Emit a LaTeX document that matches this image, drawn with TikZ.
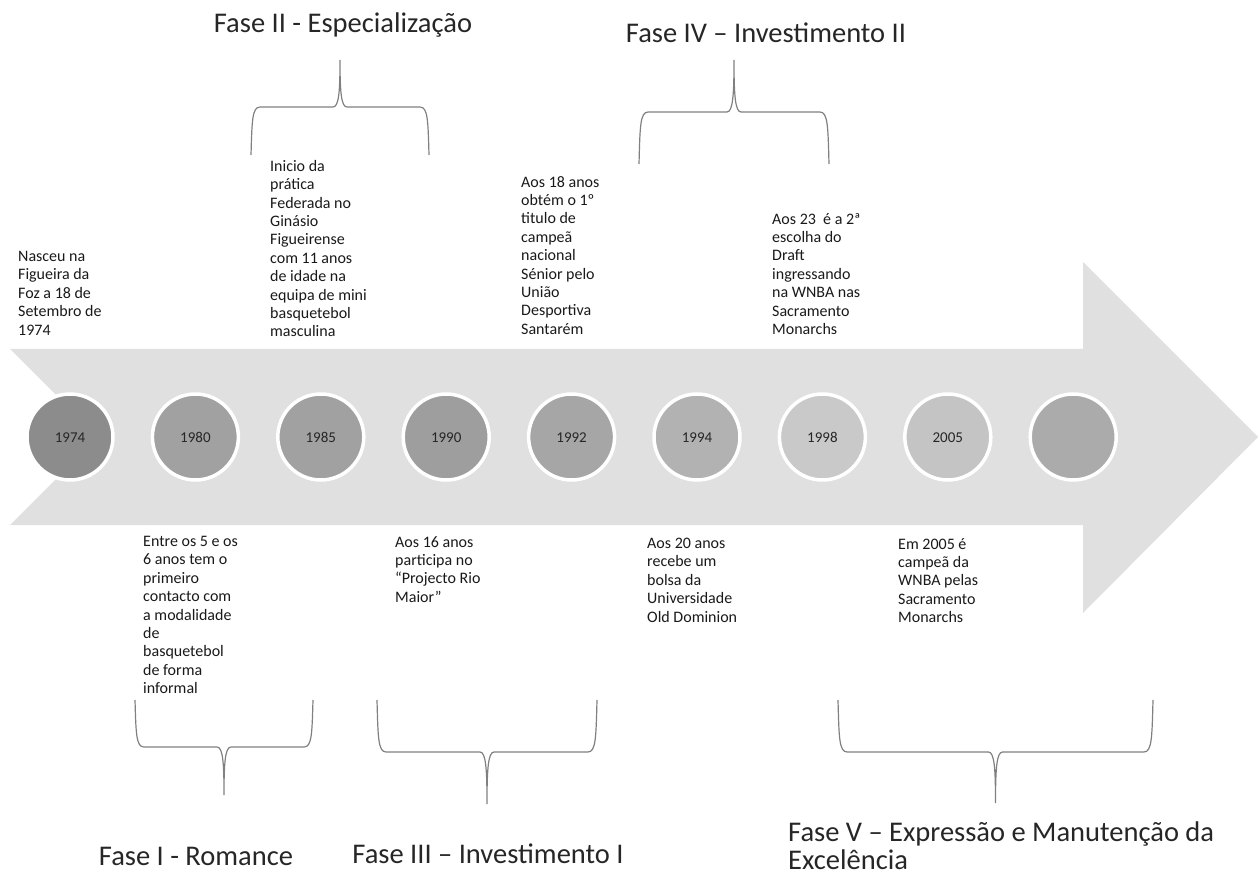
\documentclass[tikz,border=0pt]{standalone}
\usepackage{fontspec}
\setmainfont{Carlito}

\begin{document}
\begin{tikzpicture}[x=1pt,y=-1pt]
	\tikzset{yearcircle/.style={circle,draw=white,line width=3.5pt,minimum size=86pt,inner sep=0pt,text height=10pt,text depth=0pt,font=\fontsize{15}{18}\selectfont,text=black!85}}
	\tikzset{eventtext/.style={anchor=north west,align=left,inner sep=0pt,font=\fontsize{16}{18.4}\selectfont,text=black!90}}
	\tikzset{phasetitle/.style={inner sep=0pt,font=\fontsize{28.5}{27.5}\selectfont,text=black!85}}
	\tikzset{phasebrace/.style={draw=black!50,line width=1.2pt}}
	\useasboundingbox (0,0) rectangle (1258,882);
	% the big arrow
	\fill[black!12] (10,349) -- (1083,349) -- (1083,262) -- (1258,437) -- (1083,613) -- (1083,525) -- (10,525) -- (98,437) -- cycle;
	% years
	\foreach \nm/\yr/\shade [count=\i from 0] in {y1974/1974/45,y1980/1980/37,y1985/1985/37,y1990/1990/38,y1992/1992/35,y1994/1994/30,y1998/1998/21,y2005/2005/23,yend/{}/33}
		\node[yearcircle,fill=black!\shade] (\nm) at (70+125.4*\i,437) {\yr};
	% events above
	\node[eventtext] (ev1974) at (18,251) {Nasceu na\\Figueira da\\Foz a 18 de\\Setembro de\\1974};
	\node[eventtext] (ev1985) at (270,160) {Inicio da\\prática\\Federada no\\Ginásio\\Figueirense\\com 11 anos\\de idade na\\equipa de mini\\basquetebol\\masculina};
	\node[eventtext] (ev1992) at (521,176) {Aos 18 anos\\obtém o 1º\\titulo de\\campeã\\nacional\\Sénior pelo\\União\\Desportiva\\Santarém};
	\node[eventtext] (ev1998) at (772,213) {Aos 23~ é a 2ª\\escolha do\\Draft\\ingressando\\na WNBA nas\\Sacramento\\Monarchs};
	% events below
	\node[eventtext] (ev1980) at (143,536) {Entre os 5 e os\\6 anos tem o\\primeiro\\contacto com\\a modalidade\\de\\basquetebol\\de forma\\informal};
	\node[eventtext] (ev1990) at (395,536) {Aos 16 anos\\participa no\\“Projecto Rio\\Maior”};
	\node[eventtext] (ev1994) at (647,538) {Aos 20 anos\\recebe um\\bolsa da\\Universidade\\Old Dominion};
	\node[eventtext] (ev2005) at (898,538) {Em 2005 é\\campeã da\\WNBA pelas\\Sacramento\\Monarchs};
	% braces: left/right/leg end/bar/tip
	\foreach \l/\r/\a/\b/\c in {251/429/155/107/60,639/829/164/112/60,135/313/700/747/795,377/597/700/752/804,838/1153/700/752/803}{
		\pgfmathsetmacro\m{(\l+\r)/2}
		\draw[phasebrace] (\l,\a) .. controls ({\l+1},{\b+0.3*(\a-\b)}) and ({\l+1},\b) .. ({\l+9},\b) -- ({\m-7},\b)
			.. controls ({\m-1},\b) and (\m,{\b+0.35*(\c-\b)}) .. (\m,\c)
			.. controls (\m,{\b+0.35*(\c-\b)}) and ({\m+1},\b) .. ({\m+7},\b) -- ({\r-9},\b)
			.. controls ({\r-1},\b) and ({\r-1},{\b+0.3*(\a-\b)}) .. (\r,\a);
	}
	% phase titles
	\node[phasetitle] (faseII) at (343,25) {Fase II - Especialização};
	\node[phasetitle] (faseIV) at (766,33) {Fase IV – Investimento II};
	\node[phasetitle] (faseI) at (196,856) {Fase I - Romance};
	\node[phasetitle] (faseIII) at (488,854) {Fase III – Investimento I};
	\node[phasetitle,anchor=north west,align=left] (faseV) at (788,822) {Fase V – Expressão e Manutenção da\\Excelência};
\end{tikzpicture}
\end{document}
